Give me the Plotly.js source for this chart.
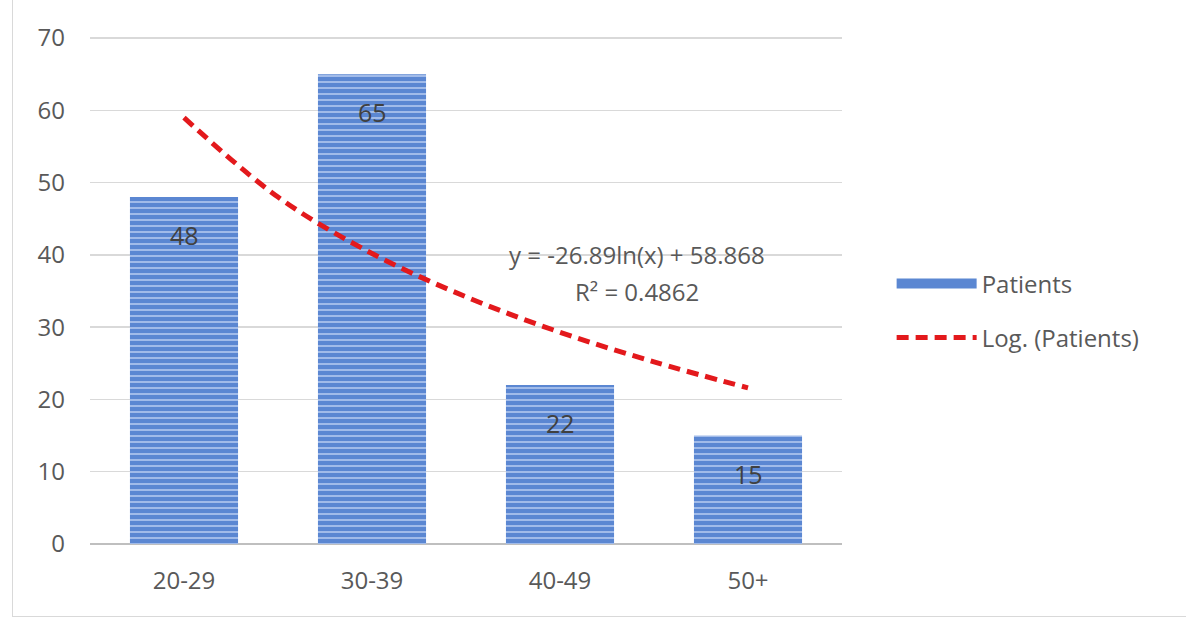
<!DOCTYPE html>
<html>
<head>
<meta charset="utf-8">
<script src="https://cdn.plot.ly/plotly-3.0.1.min.js"></script>
<style>
  html, body { margin: 0; padding: 0; background: #fff; }
  #frame { position: absolute; left: 12px; top: 0; width: 1174px; height: 617px; border-left: 1px solid #d9d9d9; border-bottom: 1px solid #d9d9d9; box-sizing: border-box; }
  #chart { position: absolute; left: 0; top: 0; width: 1189px; height: 620px; }
</style>
</head>
<body>
<div id="frame"></div>
<div id="chart"></div>
<script>
// Data
const categories = ["20-29", "30-39", "40-49", "50+"];
const patients = [48, 65, 22, 15];
// Logarithmic trend line (Log. (Patients))
const trendX = [1, 1.5, 2, 2.5, 3, 3.5, 4];
const trendY = [59.0, 48.0, 40.2, 34.2, 29.3, 25.2, 21.6];
const equationText = "y = -26.89ln(x) + 58.868";
const r2Text = "R² = 0.4862";
const yTicks = [0, 10, 20, 30, 40, 50, 60, 70];

const xPos = categories.map((c, i) => i + 1);
const font = "'Open Sans', Lato, sans-serif";
const barColor = "#5b87d2";

const traces = [
  {
    type: "bar",
    name: "Patients",
    x: xPos,
    y: patients,
    width: 0.575,
    marker: {
      color: barColor,
      line: { width: 0 },
      pattern: { shape: "-", fgcolor: "#a9c1ec", bgcolor: barColor, size: 6, solidity: 0.3 }
    },
    showlegend: false,
    hoverinfo: "x+y"
  },
  {
    // legend entry for the bars (wide solid swatch as in the reference)
    type: "scatter",
    mode: "lines",
    name: "Patients",
    x: [null],
    y: [null],
    line: { color: barColor, width: 12 },
    legendgroup: "a"
  },
  {
    type: "scatter",
    mode: "lines",
    name: "Log. (Patients)",
    x: trendX,
    y: trendY,
    line: { color: "#e3191c", width: 5, dash: "12px,7px", shape: "spline" },
    legendgroup: "b"
  }
];

const annotations = patients.map((v, i) => ({
  x: xPos[i], y: v, xref: "x", yref: "y",
  text: String(v), showarrow: false, yshift: -38,
  font: { family: font, size: 25, color: "#404040" }
}));
annotations.push({
  x: 3.41, y: 40.0, xref: "x", yref: "y", text: equationText, showarrow: false,
  font: { family: font, size: 24, color: "#595959" }
});
annotations.push({
  x: 3.41, y: 35.0, xref: "x", yref: "y", text: r2Text, showarrow: false,
  font: { family: font, size: 24, color: "#595959" }
});

const layout = {
  width: 1189, height: 620,
  margin: { l: 90, r: 347, t: 37, b: 76 },
  paper_bgcolor: "rgba(0,0,0,0)",
  plot_bgcolor: "rgba(0,0,0,0)",
  font: { family: font, size: 20, color: "#595959" },
  showlegend: true,
  legend: {
    x: 1.066, xanchor: "left", y: 0.46, yanchor: "middle",
    font: { family: font, size: 24, color: "#595959" },
    tracegroupgap: 20,
    itemwidth: 80,
    bgcolor: "rgba(0,0,0,0)"
  },
  xaxis: {
    range: [0.5, 4.5],
    tickvals: xPos, ticktext: categories,
    showgrid: false, zeroline: false,
    showline: false, ticks: "", ticklabelstandoff: 20,
    tickfont: { family: font, size: 24, color: "#595959" },
    fixedrange: true
  },
  yaxis: {
    range: [0, 70.15],
    tickvals: yTicks,
    showgrid: true, gridcolor: "#d9d9d9", gridwidth: 1.5,
    zeroline: true, zerolinecolor: "#bfbfbf", zerolinewidth: 1.5,
    showline: false, ticks: "", ticklabelstandoff: 24,
    tickfont: { family: font, size: 24, color: "#595959" },
    fixedrange: true
  },
  annotations: annotations
};

Plotly.newPlot("chart", traces, layout, { displayModeBar: false, staticPlot: true });
</script>
</body>
</html>
